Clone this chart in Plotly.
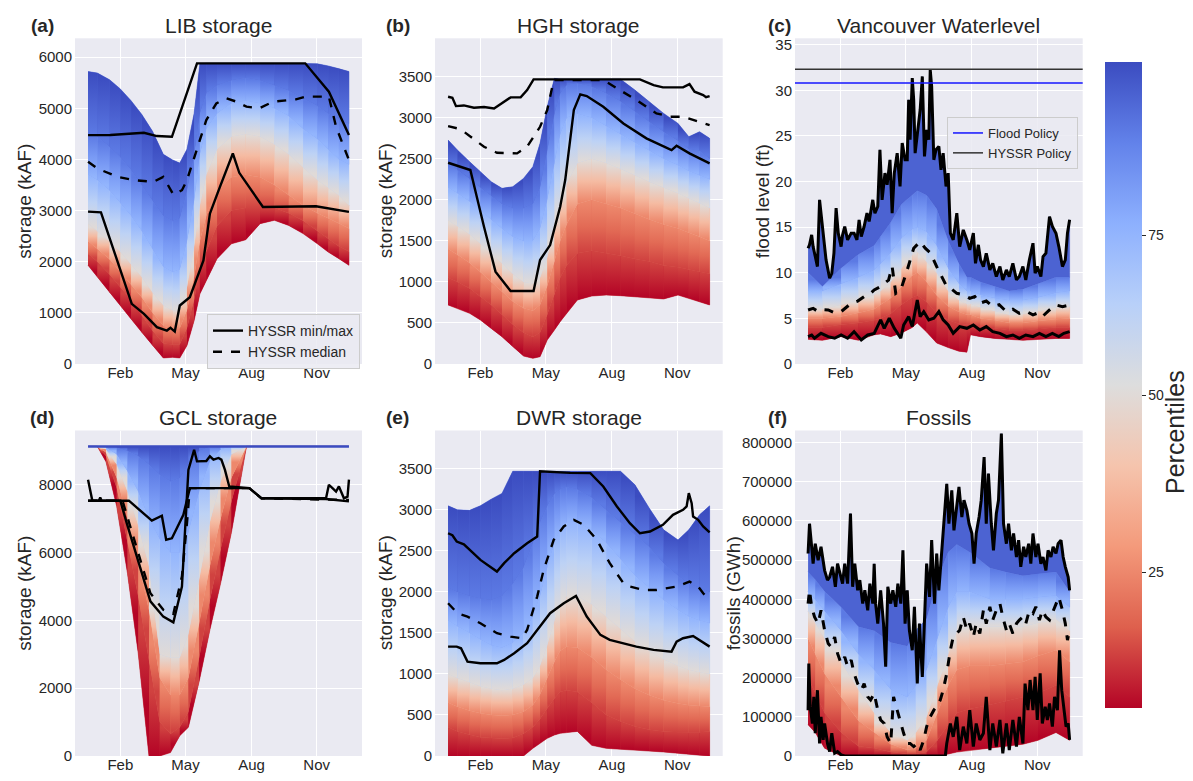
import plotly.graph_objects as go

# ---------------- DATA ----------------
# x values are day of year (0 = 1 Jan)
month_ticks = [45, 136, 228, 319]
month_labels = ["Feb", "May", "Aug", "Nov"]
pct_levels = [0, 10, 25, 50, 75, 90, 100]
cbar_tick_pcts = [25, 50, 75]
cbar_tick_pos = [0.2105, 0.4845, 0.732]
cbar_tick_labels = ["25", "50", "75"]

# (a) LIB storage
a_days = [0, 13, 30, 45, 60, 75, 90, 105, 118, 128, 138, 148, 156, 165, 180, 200, 220, 240, 260, 280, 300, 320, 335, 350, 364]
a_p0 = [1930, 1700, 1405, 1144, 882, 621, 360, 118, 130, 118, 360, 850, 1370, 1630, 2060, 2350, 2430, 2745, 2810, 2710, 2550, 2350, 2190, 2060, 1930]
a_p10 = [2150, 2000, 1750, 1500, 1250, 950, 650, 400, 380, 380, 700, 1250, 1850, 2200, 2700, 3000, 3050, 3050, 3050, 2950, 2800, 2600, 2450, 2300, 2200]
a_p25 = [2400, 2250, 2050, 1800, 1550, 1300, 1000, 750, 700, 700, 1050, 1700, 2400, 2900, 3400, 3650, 3700, 3650, 3500, 3300, 3100, 2950, 2850, 2750, 2650]
a_p50 = [2750, 2600, 2400, 2200, 1950, 1700, 1400, 1150, 1050, 1050, 1500, 2300, 3100, 3700, 4200, 4450, 4500, 4450, 4300, 4100, 3850, 3600, 3450, 3300, 3100]
a_p75 = [3700, 3600, 3400, 3150, 2900, 2600, 2250, 1900, 1800, 1850, 2400, 3200, 4100, 4600, 4900, 5100, 5150, 5100, 5000, 4850, 4600, 4400, 4200, 4000, 3900]
a_p90 = [4500, 4450, 4250, 4050, 3800, 3500, 3200, 2900, 2800, 2850, 3400, 4100, 4900, 5300, 5450, 5550, 5600, 5550, 5450, 5350, 5200, 5050, 4900, 4800, 4700]
a_p100 = [5720, 5690, 5560, 5380, 5150, 4880, 4550, 4100, 3990, 3930, 4200, 4900, 5870, 5880, 5880, 5880, 5880, 5880, 5880, 5880, 5880, 5870, 5830, 5780, 5720]
a_max_days = [0, 31, 78, 96, 117, 152, 303, 336, 364]
a_max = [4477, 4480, 4523, 4458, 4444, 5880, 5880, 5327, 4477]
a_min_days = [0, 18, 61, 78, 96, 110, 115, 121, 128, 142, 161, 170, 184, 202, 211, 244, 318, 364]
a_min = [2980, 2967, 1177, 980, 720, 654, 706, 634, 1144, 1307, 2026, 2940, 3464, 4117, 3739, 3072, 3085, 2974]
a_med_days = [0, 13, 41, 64, 91, 105, 119, 131, 138, 152, 165, 179, 193, 207, 221, 239, 258, 290, 304, 336, 346, 364]
a_med = [3954, 3824, 3660, 3595, 3562, 3660, 3314, 3399, 3595, 4183, 4771, 5098, 5196, 5131, 5033, 5000, 5131, 5176, 5229, 5229, 4640, 3987]

# (b) HGH storage (same day grid as a)
b_p0 = [719, 678, 617, 536, 434, 333, 211, 97, 69, 89, 292, 414, 516, 617, 780, 828, 840, 832, 820, 808, 792, 840, 800, 759, 719]
b_p10 = [1050, 1000, 920, 820, 720, 600, 480, 380, 330, 380, 600, 850, 1050, 1200, 1350, 1380, 1350, 1320, 1280, 1250, 1200, 1180, 1150, 1120, 1100]
b_p25 = [1400, 1330, 1230, 1120, 1000, 880, 760, 680, 650, 720, 950, 1250, 1500, 1700, 1950, 2000, 1950, 1900, 1830, 1760, 1700, 1650, 1600, 1550, 1500]
b_p50 = [1750, 1680, 1580, 1470, 1350, 1230, 1100, 1000, 980, 1050, 1300, 1650, 1950, 2200, 2450, 2500, 2450, 2380, 2300, 2220, 2150, 2080, 2020, 1960, 1900]
b_p75 = [2150, 2080, 1980, 1870, 1760, 1650, 1550, 1500, 1500, 1650, 2000, 2450, 2800, 3000, 3050, 3000, 2900, 2800, 2700, 2600, 2500, 2420, 2350, 2300, 2250]
b_p90 = [2450, 2370, 2260, 2150, 2050, 1950, 1900, 1900, 1950, 2150, 2600, 3050, 3300, 3400, 3420, 3380, 3300, 3200, 3080, 2950, 2830, 2720, 2620, 2600, 2500]
b_p100 = [2728, 2606, 2464, 2343, 2221, 2140, 2160, 2261, 2404, 2688, 3134, 3480, 3470, 3470, 3470, 3470, 3470, 3470, 3337, 3195, 3053, 2931, 2769, 2830, 2749]
b_max_days = [0, 6, 11, 22, 36, 50, 64, 78, 87, 101, 110, 119, 267, 286, 299, 327, 336, 343, 355, 359, 364]
b_max = [3256, 3244, 3142, 3150, 3122, 3130, 3114, 3195, 3248, 3248, 3337, 3467, 3467, 3398, 3370, 3370, 3410, 3317, 3276, 3250, 3264]
b_min_days = [0, 31, 50, 66, 87, 119, 128, 142, 156, 163, 175, 184, 193, 216, 244, 276, 311, 318, 336, 364]
b_min = [2452, 2363, 1673, 1125, 889, 889, 1267, 1449, 1916, 2241, 3094, 3285, 3264, 3134, 2931, 2749, 2606, 2659, 2566, 2444]
b_med_days = [0, 13, 22, 31, 50, 68, 96, 110, 119, 128, 138, 147, 216, 239, 262, 290, 309, 327, 364]
b_med = [2899, 2870, 2830, 2769, 2647, 2574, 2566, 2647, 2769, 2890, 3094, 3459, 3459, 3337, 3216, 3053, 3013, 3013, 2911]

# (c) Vancouver water level
flood_policy = 30.8
hyssr_policy = 32.3
c_env_days = [0, 20, 46, 70, 92, 101, 115, 130, 145, 152, 165, 179, 195, 210, 221, 226, 240, 260, 280, 299, 320, 345, 364]
c_p0 = [2.7, 2.6, 3.0, 2.6, 3.2, 3.3, 3.0, 3.4, 4.0, 4.5, 3.5, 2.3, 1.8, 1.4, 1.3, 3.2, 3.0, 2.8, 2.7, 2.6, 2.7, 2.8, 2.8]
c_p10 = [4.0, 4.0, 4.3, 4.5, 4.8, 5.0, 5.5, 6.5, 7.3, 7.5, 6.8, 5.5, 4.8, 4.4, 4.3, 4.3, 4.1, 3.9, 3.7, 3.7, 3.8, 4.0, 4.0]
c_p25 = [5.0, 5.0, 5.2, 5.6, 6.0, 6.5, 7.2, 8.5, 9.7, 10.0, 9.0, 7.5, 6.3, 5.7, 5.4, 5.4, 5.0, 4.8, 4.5, 4.5, 4.7, 4.9, 5.0]
c_p50 = [6.0, 6.0, 6.5, 7.0, 7.6, 8.0, 9.0, 10.5, 12.0, 12.3, 11.2, 10.0, 8.0, 7.0, 6.6, 6.6, 6.2, 5.8, 5.4, 5.5, 5.8, 6.2, 6.3]
c_p75 = [8.0, 8.0, 8.8, 9.5, 10.3, 11.0, 12.2, 13.8, 14.8, 15.0, 14.5, 13.0, 10.5, 8.8, 8.0, 8.0, 7.6, 7.2, 7.0, 7.0, 7.3, 7.8, 8.0]
c_p90 = [10.0, 8.5, 10.5, 12.0, 13.0, 14.0, 15.5, 17.5, 18.5, 19.0, 18.5, 17.0, 13.5, 11.0, 9.5, 9.5, 9.0, 8.5, 8.0, 8.2, 8.8, 9.5, 9.5]
c_max_days = [0, 2, 5, 7, 10, 13, 16, 18, 21, 25, 30, 33, 36, 39, 42, 46, 48, 51, 55, 60,
              64, 68, 71, 74, 78, 82, 85, 90, 93, 97, 100, 103, 107, 110, 114, 117, 120, 124, 128, 131,
              135, 138, 140, 142, 145, 147, 149, 153, 156, 159, 162, 165, 168, 170, 172, 175, 178, 182, 185, 188,
              192, 195, 198, 202, 207, 211, 216, 221, 225, 230, 233, 237, 240, 244, 248, 253, 257, 262, 267, 271,
              276, 280, 285, 290, 294, 299, 303, 308, 313, 316, 319, 324, 327, 331, 336, 340, 345, 349, 354, 358,
              361, 364]
c_max = [12.69, 13.06, 14.15, 12.87, 11.78, 10.68, 17.99, 16.53, 14.34, 11.41,
         9.40, 9.95, 12.14, 17.08, 14.34, 12.87, 14.15, 15.07, 13.60, 14.34,
         14.34, 13.60, 15.80, 13.97, 15.07, 16.53, 15.62, 17.99, 16.53, 17.26,
         23.48, 17.99, 20.92, 19.64, 22.38, 16.53, 20.92, 23.11, 19.46, 24.21,
         22.38, 22.38, 28.96, 24.58, 31.34, 28.96, 23.11, 26.04, 27.87, 31.52,
         22.75, 25.67, 24.58, 32.25, 30.43, 22.38, 23.48, 23.84, 21.28, 23.11,
         19.46, 20.92, 14.34, 13.60, 16.53, 12.87, 14.70, 13.60, 12.51, 14.34,
         11.04, 13.06, 11.41, 10.68, 12.14, 10.31, 11.04, 9.58, 10.68, 9.22,
         10.31, 9.58, 11.04, 9.22, 9.58, 10.68, 9.22, 11.41, 13.24, 9.95,
         10.68, 9.58, 11.78, 12.14, 16.16, 15.07, 14.34, 12.87, 10.68, 11.41,
         14.34, 15.80]
c_p100 = c_max  # top of the ensemble sits on the HYSSR max line
c_min_days = [0, 5, 9, 18, 28, 37, 46, 55, 64, 74, 83, 92, 101, 106, 113, 120, 129, 133, 140, 145,
              152, 156, 161, 168, 175, 182, 188, 195, 202, 211, 221, 230, 239, 248, 257, 267, 276, 285, 294, 303,
              313, 322, 331, 340, 349, 356, 364]
c_min = [3.0, 3.18, 2.82, 3.36, 3.0, 2.82, 3.18, 2.82, 3.55, 2.63, 3.18, 3.36, 4.83, 3.91, 5.01, 3.91, 2.82, 4.28, 5.19, 4.10,
         7.02, 5.19, 5.74, 4.83, 5.01, 5.74, 4.83, 4.28, 3.36, 4.10, 3.91, 4.28, 3.73, 4.10, 3.55, 3.36, 3.0, 3.18, 2.82, 3.18,
         3.0, 3.36, 3.0, 3.36, 3.0, 3.36, 3.55]
c_med_days = [0, 7, 14, 21, 28, 37, 46, 53, 60, 69, 78, 85, 92, 99, 106, 112, 117, 122, 129, 133,
              138, 147, 156, 163, 170, 179, 186, 193, 200, 207, 216, 225, 232, 239, 248, 257, 266, 276, 285, 294,
              303, 313, 320, 326, 336, 345, 354, 364]
c_med = [5.92, 6.10, 5.74, 5.95, 5.92, 5.60, 5.74, 6.20, 6.66, 6.90, 7.39, 7.60, 8.12, 8.40, 8.85, 9.20, 10.68, 7.75, 8.12, 9.00,
         10.31, 12.69, 13.42, 12.69, 12.20, 10.68, 9.60, 8.48, 8.20, 7.75, 7.60, 7.20, 7.40, 6.66, 6.90, 6.29, 6.50, 5.74, 6.00, 5.56,
         5.80, 5.38, 5.60, 5.19, 5.92, 6.47, 6.29, 6.47]

# (d) GCL storage
d_days = [0, 13, 25, 40, 55, 70, 85, 100, 115, 128, 140, 155, 170, 185, 200, 221, 240, 364]
d_p0 = [9130, 9130, 8680, 7360, 5390, 3030, 0, 0, 100, 600, 850, 2200, 3720, 5100, 6590, 9130, 9130, 9130]
d_p10 = [9130, 9130, 8850, 7900, 6300, 4700, 2800, 1000, 650, 850, 1300, 2900, 4600, 6100, 7500, 9130, 9130, 9130]
d_p25 = [9130, 9130, 8950, 8200, 7000, 5700, 4300, 2300, 1800, 1800, 2300, 3900, 5600, 7000, 8200, 9130, 9130, 9130]
d_p50 = [9130, 9130, 9050, 8600, 7800, 6800, 5600, 3000, 2900, 2900, 3600, 5200, 6900, 8100, 8900, 9130, 9130, 9130]
d_p75 = [9130, 9130, 9100, 8900, 8400, 7800, 7000, 6400, 6000, 6000, 6600, 7800, 8700, 9050, 9130, 9130, 9130, 9130]
d_p90 = [9130, 9130, 9130, 9100, 9000, 8850, 8600, 8300, 8100, 8200, 8600, 9000, 9130, 9130, 9130, 9130, 9130, 9130]
d_p100 = [9130, 9130, 9130, 9130, 9130, 9130, 9130, 9130, 9130, 9130, 9130, 9130, 9130, 9130, 9130, 9130, 9130, 9130]
d_lineA_days = [0, 6, 45, 54, 87, 105, 119, 131, 140, 148, 152, 165, 170, 175, 182, 186, 191, 197, 225, 242, 332, 336, 341, 346, 350, 357, 362, 364]
d_lineA = [8150, 7530, 7530, 6870, 4560, 4110, 3940, 5000, 8440, 9030, 8690, 8700, 8840, 8740, 8790, 8740, 8440, 7950, 7900, 7600, 7600, 8000, 7900, 7800, 7950, 7600, 7650, 8150]
d_lineB_days = [0, 15, 17, 19, 57, 89, 103, 109, 117, 133, 142, 225, 242, 332, 364]
d_lineB = [7530, 7530, 7620, 7530, 7530, 6940, 7085, 6380, 6420, 7115, 7900, 7900, 7600, 7580, 7510]
d_med_days = [0, 48, 87, 105, 119, 131, 138, 142, 225, 242, 364]
d_med = [7530, 7530, 4800, 4310, 4190, 5300, 6870, 7900, 7900, 7600, 7550]

# (e) DWR storage (same day grid as a)
e_p0 = [0, 0, 0, 0, 0, 0, 0, 0, 93, 154, 215, 256, 276, 285, 300, 130, 93, 81, 73, 61, 49, 33, 20, 8, 0]
e_p10 = [350, 300, 260, 230, 220, 210, 220, 270, 350, 450, 580, 700, 780, 800, 780, 650, 500, 420, 360, 320, 300, 290, 290, 290, 300]
e_p25 = [650, 600, 550, 520, 500, 490, 500, 540, 620, 750, 950, 1150, 1280, 1330, 1320, 1200, 1050, 930, 820, 740, 680, 640, 620, 610, 600]
e_p50 = [1000, 950, 900, 850, 820, 800, 820, 870, 950, 1100, 1350, 1650, 1850, 1950, 1950, 1850, 1700, 1550, 1400, 1280, 1180, 1100, 1050, 1020, 1000]
e_p75 = [1650, 1580, 1500, 1420, 1350, 1320, 1380, 1500, 1700, 1950, 2300, 2600, 2750, 2850, 2850, 2750, 2600, 2400, 2200, 2050, 1900, 1780, 1700, 1650, 1620]
e_p90 = [2050, 2000, 1950, 1920, 1900, 1950, 2100, 2300, 2600, 2850, 3050, 3200, 3250, 3280, 3250, 3150, 3000, 2850, 2700, 2550, 2350, 2200, 2100, 2050, 2000]
e_p100 = [3049, 3000, 2995, 3050, 3130, 3200, 3470, 3470, 3470, 3470, 3470, 3470, 3470, 3470, 3470, 3470, 3470, 3470, 3305, 3020, 2756, 2634, 2756, 2939, 3049]
e_max_days = [0, 6, 12, 22, 45, 68, 78, 92, 110, 124, 128, 170, 198, 216, 235, 253, 267, 281, 299, 313, 327, 332, 335, 339, 341, 348, 355, 364]
e_max = [2715, 2690, 2614, 2580, 2390, 2248, 2350, 2471, 2593, 2675, 3470, 3450, 3447, 3285, 3041, 2837, 2715, 2736, 2817, 2939, 3000, 3041, 3203, 3081, 2919, 2878, 2797, 2724]
e_min_days = [0, 12, 18, 27, 45, 68, 78, 92, 110, 124, 142, 161, 178, 193, 212, 225, 262, 286, 311, 318, 327, 341, 364]
e_min = [1333, 1333, 1313, 1150, 1130, 1130, 1171, 1252, 1374, 1537, 1740, 1862, 1951, 1699, 1476, 1415, 1333, 1293, 1272, 1394, 1435, 1463, 1333]
e_med_days = [0, 13, 27, 45, 68, 87, 103, 110, 124, 133, 147, 161, 175, 189, 207, 225, 244, 253, 272, 290, 318, 336, 348, 355, 364]
e_med = [1862, 1740, 1699, 1618, 1496, 1455, 1435, 1537, 1943, 2268, 2634, 2797, 2878, 2817, 2634, 2350, 2106, 2065, 2024, 2024, 2065, 2126, 2065, 1984, 1902]

# (f) Fossils (values in thousands of GWh)
f_env_days = [0, 10, 23, 46, 70, 92, 115, 138, 150, 165, 180, 195, 207, 225, 253, 275, 299, 320, 345, 364]
f_p0_k = [80, 60, 20, 0, 0, 0, 0, 0, 0, 0, 0, 5, 10, 15, 20, 25, 30, 40, 60, 40]
f_p10_k = [200, 160, 110, 60, 25, 20, 10, 5, 5, 10, 40, 80, 110, 120, 130, 140, 150, 160, 180, 150]
f_p25_k = [300, 260, 210, 150, 90, 60, 30, 15, 20, 40, 110, 180, 220, 230, 230, 235, 240, 255, 270, 240]
f_p50_k = [370, 340, 300, 240, 170, 110, 60, 40, 60, 100, 180, 260, 320, 330, 330, 330, 330, 340, 350, 320]
f_p75_k = [420, 400, 370, 320, 260, 220, 170, 150, 180, 220, 300, 380, 420, 420, 400, 400, 400, 405, 410, 380]
f_p90_k = [470, 450, 420, 380, 330, 320, 290, 280, 320, 350, 450, 520, 540, 520, 480, 470, 460, 465, 470, 420]
f_max_days = [0, 2, 5, 7, 10, 14, 18, 23, 27, 30, 34, 38, 41, 45, 48, 51, 55, 59, 62, 65,
              69, 72, 76, 79, 83, 86, 90, 92, 94, 97, 101, 105, 108, 111, 115, 118, 122, 125, 129, 132,
              135, 138, 141, 145, 148, 152, 155, 159, 162, 165, 169, 172, 176, 179, 182, 186, 189, 193, 196, 200,
              203, 207, 210, 214, 217, 221, 224, 228, 231, 234, 238, 241, 245, 248, 251, 255, 258, 262, 265, 269,
              272, 276, 279, 283, 286, 290, 293, 296, 300, 303, 307, 310, 313, 317, 320, 324, 327, 331, 334, 338,
              341, 345, 348, 352, 355, 358, 362, 364]
f_max_k = [517, 593, 534, 491, 542, 500, 534, 474, 449, 457,
           483, 432, 491, 457, 440, 491, 440, 619, 432, 491,
           423, 449, 389, 423, 372, 440, 389, 491, 389, 338,
           423, 338, 228, 432, 389, 423, 381, 440, 389, 525,
           338, 423, 321, 270, 381, 185, 338, 202, 338, 491,
           406, 551, 389, 517, 423, 525, 593, 695, 593, 678,
           576, 644, 687, 610, 653, 627, 593, 568, 491, 568,
           610, 653, 763, 593, 721, 593, 525, 619, 653, 823,
           593, 542, 593, 525, 568, 508, 551, 483, 534, 508,
           542, 491, 568, 508, 542, 491, 508, 474, 525, 508,
           534, 517, 542, 551, 508, 483, 457, 423]
f_min_days = [0, 1, 3, 6, 8, 10, 13, 16, 18, 21, 23, 27, 30, 33, 37, 41, 46, 51, 191, 193,
              198, 202, 207, 211, 216, 221, 225, 230, 234, 239, 244, 248, 253, 257, 262, 267, 271, 276, 280, 285,
              290, 294, 299, 302, 306, 309, 313, 316, 319, 323, 326, 330, 333, 336, 340, 343, 347, 350, 353, 356,
              359, 362, 364]
f_min_k = [117, 236, 126, 83, 151, 58, 168, 32, 100, 41, 83, 32, 11, 58, 7, 11, 3, 0, 0, 32,
           83, 49, 100, 15, 75, 32, 117, 24, 83, 41, 58, 151, 15, 83, 24, 92, 7, 83, 15, 92,
           24, 100, 32, 185, 117, 194, 117, 202, 92, 211, 83, 126, 92, 134, 75, 151, 117, 270, 168, 117,
           75, 83, 41]
f_med_days = [0, 2, 5, 9, 14, 18, 23, 28, 32, 37, 41, 46, 51, 55, 60, 64, 69, 74, 78, 83,
              87, 92, 97, 101, 106, 110, 115, 119, 124, 129, 133, 138, 142, 147, 152, 156, 161, 165, 170, 175,
              179, 184, 188, 193, 198, 202, 207, 211, 216, 221, 225, 230, 234, 239, 244, 248, 253, 257, 262, 267,
              271, 276, 280, 285, 290, 294, 299, 303, 308, 313, 317, 322, 326, 331, 336, 340, 345, 349, 354, 358,
              361, 364]
f_med_k = [389, 423, 381, 355, 338, 372, 321, 287, 279, 304, 262, 236, 253, 228, 245, 211, 185, 168, 185, 151,
           143, 160, 117, 92, 83, 49, 32, 151, 117, 83, 58, 32, 32, 24, 32, 15, 41, 75, 100, 117,
           126, 143, 168, 211, 270, 304, 313, 321, 355, 321, 338, 304, 338, 313, 372, 338, 381, 347, 372, 389,
           355, 321, 338, 313, 338, 347, 355, 338, 372, 364, 381, 347, 372, 355, 347, 364, 389, 406, 372, 338,
           296, 321]


def k2v(arr):
    return [v * 1000 for v in arr]


# ---------------- COLOURS ----------------
COOLWARM = [(59, 76, 192), (98, 130, 234), (141, 176, 254), (184, 208, 249), (221, 221, 221),
            (245, 196, 173), (244, 154, 123), (222, 96, 77), (180, 4, 38)]


def cw(t):
    t = min(max(t, 0.0), 1.0) * 8
    i = min(int(t), 7)
    f = t - i
    a, b = COOLWARM[i], COOLWARM[i + 1]
    return tuple(int(round(a[j] + (b[j] - a[j]) * f)) for j in range(3))


def interp(x, xs, ys):
    for i in range(len(xs) - 1):
        if xs[i] <= x <= xs[i + 1]:
            f = (x - xs[i]) / (xs[i + 1] - xs[i])
            return ys[i] + f * (ys[i + 1] - ys[i])
    return ys[-1]


def pct_color(p):
    frac = interp(p, [0] + cbar_tick_pcts + [100], [0] + cbar_tick_pos + [1])
    return "rgb(%d,%d,%d)" % cw(1 - frac)


# ---------------- FIGURE ----------------
W, H = 1193, 781


def PX(x):
    return x / W


def PY(y):
    return 1 - y / H


fig = go.Figure()

xdom = [[PX(75), PX(362)], [PX(435), PX(722.7)], [PX(795), PX(1082.7)]]
ydom = [[PY(364), PY(38.3)], [PY(756), PY(430.5)]]

TXT = "#262626"
FONT = "Liberation Sans, Arial, sans-serif"

panels = [
    dict(env=[(a_days, a_p0), (a_days, a_p10), (a_days, a_p25), (a_days, a_p50), (a_days, a_p75), (a_days, a_p90), (a_days, a_p100)],
         lines=[(a_max_days, a_max, "solid"), (a_min_days, a_min, "solid"), (a_med_days, a_med, "dash")],
         yr=[0, 6370], dt=1000, yt="storage (kAF)", title="LIB storage", letter="(a)", lw=2.4),
    dict(env=[(a_days, b_p0), (a_days, b_p10), (a_days, b_p25), (a_days, b_p50), (a_days, b_p75), (a_days, b_p90), (a_days, b_p100)],
         lines=[(b_max_days, b_max, "solid"), (b_min_days, b_min, "solid"), (b_med_days, b_med, "dash")],
         yr=[0, 3968], dt=500, yt="storage (kAF)", title="HGH storage", letter="(b)", lw=2.4),
    dict(env=[(c_env_days, c_p0), (c_env_days, c_p10), (c_env_days, c_p25), (c_env_days, c_p50), (c_env_days, c_p75), (c_env_days, c_p90), (c_max_days, c_p100)],
         lines=[(c_max_days, c_max, "solid"), (c_min_days, c_min, "solid"), (c_med_days, c_med, "dash")],
         yr=[0, 35.7], dt=5, yt="flood level (ft)", title="Vancouver Waterlevel", letter="(c)", lw=3),
    dict(env=[(d_days, d_p0), (d_days, d_p10), (d_days, d_p25), (d_days, d_p50), (d_days, d_p75), (d_days, d_p90), (d_days, d_p100)],
         lines=[(d_lineB_days, d_lineB, "solid"), (d_med_days, d_med, "dash"), (d_lineA_days, d_lineA, "solid")],
         yr=[0, 9600], dt=2000, yt="storage (kAF)", title="GCL storage", letter="(d)", lw=2.4),
    dict(env=[(a_days, e_p0), (a_days, e_p10), (a_days, e_p25), (a_days, e_p50), (a_days, e_p75), (a_days, e_p90), (a_days, e_p100)],
         lines=[(e_max_days, e_max, "solid"), (e_min_days, e_min, "solid"), (e_med_days, e_med, "dash")],
         yr=[0, 3967], dt=500, yt="storage (kAF)", title="DWR storage", letter="(e)", lw=2.4),
    dict(env=[(f_env_days, k2v(f_p0_k)), (f_env_days, k2v(f_p10_k)), (f_env_days, k2v(f_p25_k)), (f_env_days, k2v(f_p50_k)),
              (f_env_days, k2v(f_p75_k)), (f_env_days, k2v(f_p90_k)), (f_max_days, k2v(f_max_k))],
         lines=[(f_max_days, k2v(f_max_k), "solid"), (f_min_days, k2v(f_min_k), "solid"), (f_med_days, k2v(f_med_k), "dash")],
         yr=[0, 831000], dt=100000, yt="fossils (GWh)", title="Fossils", letter="(f)", lw=3),
]

ytitle_x = [24.5, 385, 762, 24.5, 385, 733]
letter_x = [42, 398, 779, 42, 397, 777]
title_y = [26, 26, 26, 418, 418, 418]

annotations = []
for i, p in enumerate(panels):
    n = i + 1
    sx = "" if n == 1 else str(n)
    xa, ya = "x" + sx, "y" + sx
    col, row = i % 3, i // 3
    env = p["env"]
    # flat percentile bands (base layer)
    for k in range(len(env) - 1):
        (dl, lo), (du, hi) = env[k], env[k + 1]
        c = pct_color((pct_levels[k] + pct_levels[k + 1]) / 2)
        fig.add_trace(go.Scatter(x=list(du) + list(dl)[::-1], y=list(hi) + list(lo)[::-1],
                                 fill="toself", fillcolor=c, mode="lines", line=dict(color=c, width=0.6),
                                 hoverinfo="skip", showlegend=False, xaxis=xa, yaxis=ya))
    # smooth colour gradient inside each band, slice by slice
    for k in range(len(env) - 1):
        (dl, lo), (du, hi) = env[k], env[k + 1]
        if dl is not du:
            continue
        pl, ph = pct_levels[k], pct_levels[k + 1]
        cs_band = [[0, pct_color(pl)], [0.5, pct_color((pl + ph) / 2)], [1, pct_color(ph)]]
        for j in range(len(dl) - 1):
            y0 = (lo[j] + lo[j + 1]) / 2
            y1 = (hi[j] + hi[j + 1]) / 2
            if y1 - y0 <= 1e-9:
                continue
            fig.add_trace(go.Scatter(x=[dl[j], dl[j + 1], dl[j + 1], dl[j], dl[j]],
                                     y=[lo[j], lo[j + 1], hi[j + 1], hi[j], lo[j]],
                                     fill="toself", mode="none",
                                     fillgradient=dict(type="vertical", colorscale=cs_band, start=y0, stop=y1),
                                     hoverinfo="skip", showlegend=False, xaxis=xa, yaxis=ya))
    if n == 4:
        fig.add_trace(go.Scatter(x=d_days, y=d_p100, mode="lines", line=dict(color="rgb(59,76,192)", width=2.5),
                                 hoverinfo="skip", showlegend=False, xaxis=xa, yaxis=ya))
    # HYSSR lines
    for j, (dx, dy, dash) in enumerate(p["lines"]):
        show = (n == 1 and j != 1)
        name = "HYSSR median" if dash == "dash" else "HYSSR min/max"
        fig.add_trace(go.Scatter(x=dx, y=dy, mode="lines", line=dict(color="black", width=p["lw"], dash=dash),
                                 name=name, showlegend=show, legend="legend", hoverinfo="skip",
                                 xaxis=xa, yaxis=ya))
    ax = dict(domain=xdom[col], anchor=ya, range=[-18.2, 382.2], tickmode="array", tickvals=month_ticks,
              ticktext=month_labels, showgrid=True, gridcolor="white", gridwidth=1.2, zeroline=False,
              showline=False, ticks="", ticklabelstandoff=-2,
              tickfont=dict(size=15, color=TXT, family=FONT), automargin=False, fixedrange=True)
    ay = dict(domain=ydom[row], anchor=xa, range=p["yr"], dtick=p["dt"], tick0=0, showgrid=True,
              gridcolor="white", gridwidth=1.2, zeroline=False, showline=False, ticks="", ticklabelstandoff=2,
              tickfont=dict(size=15, color=TXT, family=FONT),
              automargin=False, fixedrange=True, tickformat="d")
    fig.update_layout(**{"xaxis" + sx: ax, "yaxis" + sx: ay})
    xc = (xdom[col][0] + xdom[col][1]) / 2
    annotations.append(dict(text=p["title"], x=xc, y=PY(title_y[i]), xref="paper", yref="paper",
                            xanchor="center", yanchor="middle", showarrow=False,
                            font=dict(size=21, color=TXT, family=FONT)))
    annotations.append(dict(text="<b>%s</b>" % p["letter"], x=PX(letter_x[i]), y=PY(title_y[i]),
                            xref="paper", yref="paper", xanchor="center", yanchor="middle", showarrow=False,
                            font=dict(size=19, color=TXT, family=FONT)))
    yc = (ydom[row][0] + ydom[row][1]) / 2
    annotations.append(dict(text=p["yt"], x=PX(ytitle_x[i]), y=yc, xref="paper", yref="paper",
                            xanchor="center", yanchor="middle", textangle=-90, showarrow=False,
                            font=dict(size=19, color=TXT, family=FONT)))

# colour-bar title
annotations.append(dict(text="Percentiles", x=PX(1175), y=PY(432), xref="paper", yref="paper",
                        xanchor="center", yanchor="middle", textangle=-90, showarrow=False,
                        font=dict(size=25, color=TXT, family=FONT)))

# (c) policy lines
fig.add_shape(type="line", xref="x3 domain", yref="y3", x0=0, x1=1, y0=flood_policy, y1=flood_policy,
              line=dict(color="rgb(20,20,255)", width=1.5))
fig.add_shape(type="line", xref="x3 domain", yref="y3", x0=0, x1=1, y0=hyssr_policy, y1=hyssr_policy,
              line=dict(color="#333333", width=1.5))
fig.add_trace(go.Scatter(x=[None], y=[None], mode="lines", line=dict(color="rgb(20,20,255)", width=1.5),
                         name="Flood Policy", legend="legend2", xaxis="x3", yaxis="y3"))
fig.add_trace(go.Scatter(x=[None], y=[None], mode="lines", line=dict(color="#333333", width=1.5),
                         name="HYSSR Policy", legend="legend2", xaxis="x3", yaxis="y3"))

# colour bar
cs = [[i / 8, "rgb(%d,%d,%d)" % cw(1 - i / 8)] for i in range(9)]
fig.add_trace(go.Scatter(x=[None], y=[None], mode="markers", showlegend=False, hoverinfo="skip",
                         marker=dict(color=[0.5], cmin=0, cmax=1, colorscale=cs, showscale=True,
                                     colorbar=dict(x=PX(1105), xanchor="left", y=PY(385), yanchor="middle",
                                                   len=646, lenmode="pixels", thickness=37, thicknessmode="pixels",
                                                   outlinewidth=0, xpad=0, ypad=0,
                                                   tickmode="array", tickvals=cbar_tick_pos, ticktext=cbar_tick_labels,
                                                   ticks="outside", ticklen=4, tickcolor=TXT, tickwidth=1,
                                                   tickfont=dict(size=14, color=TXT, family=FONT))),
                         xaxis="x3", yaxis="y3"))

fig.update_layout(
    width=W, height=H, margin=dict(l=0, r=0, t=0, b=0),
    paper_bgcolor="white", plot_bgcolor="#eaeaf2",
    font=dict(family=FONT, color=TXT),
    annotations=annotations, hovermode=False,
    legend=dict(x=PX(207), y=PY(314), xanchor="left", yanchor="top", bgcolor="rgba(234,234,242,0.85)",
                bordercolor="#cccccc", borderwidth=1, font=dict(size=14, color=TXT, family=FONT),
                itemwidth=30, tracegroupgap=0),
    legend2=dict(x=PX(947), y=PY(117), xanchor="left", yanchor="top", bgcolor="rgba(234,234,242,0.85)",
                 bordercolor="#cccccc", borderwidth=1, font=dict(size=13, color=TXT, family=FONT),
                 itemwidth=30, tracegroupgap=0),
)

fig.write_html("out.html", config={"displayModeBar": False},
               post_script="document.body.style.margin='0px';document.body.style.overflow='hidden';")
